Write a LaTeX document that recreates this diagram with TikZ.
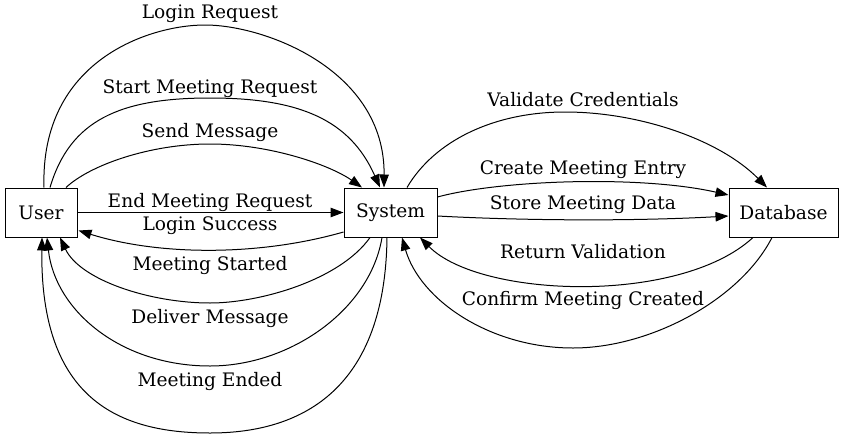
\documentclass[tikz,border=0pt]{standalone}
\usepackage{fontspec}
\setmainfont{DejaVu Serif}
\usetikzlibrary{arrows.meta,calc}
\tikzset{
  box/.style={draw,line width=1pt,minimum height=49pt,inner sep=0pt,font=\fontsize{18.6}{22}\selectfont},
  lbl/.style={inner sep=0pt,font=\fontsize{18.6}{22}\selectfont},
  conn/.style={line width=1pt,-{Triangle[length=13pt,width=9.5pt]}}
}
\begin{document}
\begin{tikzpicture}[x=1pt,y=-1pt]
\useasboundingbox (0,0) rectangle (845,439);
\node[box,minimum width=72pt] (u) at (41,212.5) {User};
\node[box,minimum width=93pt] (s) at (390.5,212.5) {System};
\node[box,minimum width=109pt] (d) at (783.5,212.5) {Database};
% User -> System
\draw[conn] ($(u.north)+(3,0)$) .. controls (40,60) and (150,25) .. (205,25) .. controls (265,25) and (385,70) .. ($(s.north)+(-6.5,0)$);
\draw[conn] ($(u.north)+(9,0)$) .. controls (70,120) and (120,98) .. (210,98) .. controls (300,98) and (350,120) .. ($(s.north)+(-10.5,0)$);
\draw[conn] ($(u.north)+(25,0)$) .. controls (90,165) and (150,144) .. (210,144) .. controls (270,144) and (330,165) .. ($(s.north)+(-28.5,0)$);
\draw[conn] (u.east) -- (s.west);
% System -> User
\draw[conn] ($(s.west)+(0,19.5)$) .. controls (260,256) and (160,256) .. ($(u.east)+(1,18)$);
\draw[conn] ($(s.south)+(-20.5,0)$) .. controls (340,280) and (260,303) .. (210,303) .. controls (150,303) and (80,280) .. ($(u.south)+(19,0)$);
\draw[conn] ($(s.south)+(-8.5,0)$) .. controls (370,310) and (290,366) .. (210,366) .. controls (120,366) and (55,310) .. ($(u.south)+(6,0)$);
\draw[conn] ($(s.south)+(-3.5,0)$) .. controls (385,400) and (290,433) .. (210,433) .. controls (120,433) and (40,400) .. ($(u.south)+(1,0)$);
% System -> Database
\draw[conn] ($(s.north)+(16.5,0)$) .. controls (435,140) and (495,112) .. (565,112) .. controls (640,112) and (720,140) .. ($(d.north)+(-16.5,0)$);
\draw[conn] ($(s.east)+(0,-15.5)$) .. controls (500,180) and (640,175) .. ($(d.west)+(0,-17.5)$);
\draw[conn] ($(s.east)+(0,3.5)$) .. controls (530,221) and (640,221) .. ($(d.west)+(0,3.5)$);
% Database -> System
\draw[conn] ($(d.south)+(-30.5,0)$) .. controls (680,305) and (480,298) .. ($(s.south)+(29.5,0)$);
\draw[conn] ($(d.south)+(-11.5,0)$) .. controls (740,300) and (650,348) .. (573,348) .. controls (490,348) and (420,300) .. ($(s.south)+(11.5,0)$);
% labels
\node[lbl] (l1) at (210,14) {Login Request};
\node[lbl] (l2) at (210,89) {Start Meeting Request};
\node[lbl] (l3) at (210,132) {Send Message};
\node[lbl] (l4) at (210,202) {End Meeting Request};
\node[lbl] (l5) at (210,226) {Login Success};
\node[lbl] (l6) at (210,265) {Meeting Started};
\node[lbl] (l7) at (210,318) {Deliver Message};
\node[lbl] (l8) at (210,381) {Meeting Ended};
\node[lbl] (l9) at (583,100) {Validate Credentials};
\node[lbl] (l10) at (583,170) {Create Meeting Entry};
\node[lbl] (l11) at (583,205) {Store Meeting Data};
\node[lbl] (l12) at (583,252) {Return Validation};
\node[lbl] (l13) at (583,300) {Confirm Meeting Created};
\end{tikzpicture}
\end{document}
